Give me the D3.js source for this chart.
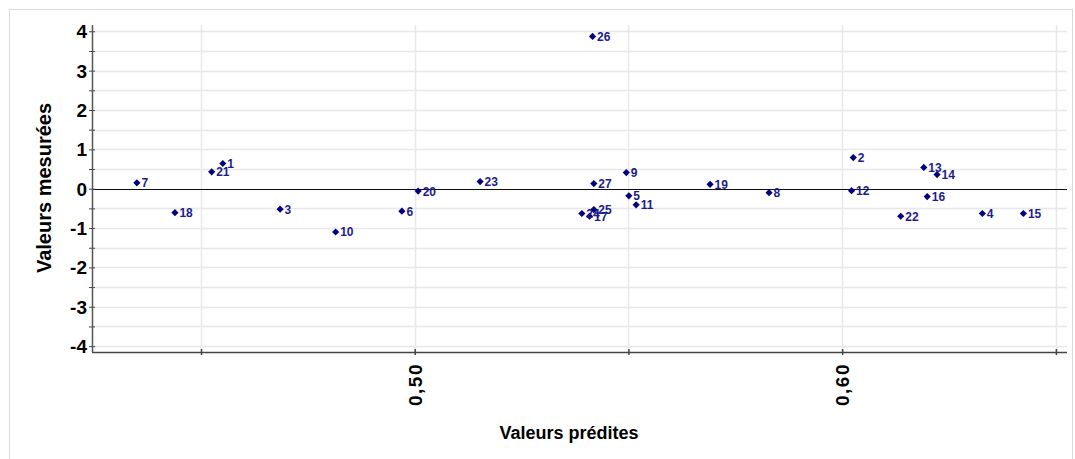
<!DOCTYPE html>
<html><head><meta charset="utf-8">
<script src="https://cdn.jsdelivr.net/npm/d3@7"></script>
<style>body{margin:0;background:#fff}svg{display:block}text{font-family:"Liberation Sans",Arial,sans-serif}</style>
</head><body>
<svg id="c" width="1075" height="459"></svg>
<script>
const ids = [1,2,3,4,5,6,7,8,9,10,11,12,13,14,15,16,17,18,19,20,21,22,23,24,25,26,27];
const predicted = [0.4551,0.6026,0.4685,0.6328,0.5501,0.4970,0.4350,0.5829,0.5495,0.4815,0.5518,0.6022,0.6191,0.6222,0.6424,0.6199,0.5409,0.4439,0.5691,0.5008,0.4525,0.6137,0.5153,0.5391,0.5419,0.5416,0.5419];
const measured = [0.64,0.79,-0.52,-0.63,-0.18,-0.57,0.15,-0.10,0.41,-1.10,-0.41,-0.05,0.54,0.36,-0.63,-0.20,-0.70,-0.61,0.11,-0.06,0.43,-0.70,0.18,-0.63,-0.53,3.87,0.13];
const xTicks = [0.45,0.50,0.55,0.60,0.65];
const xTickLabels = ["","0,50","","0,60",""];
const yTicks = [-4,-3,-2,-1,0,1,2,3,4];
const yMinor = d3.range(-4,4.01,0.5);

const svg = d3.select("#c");
const L=92, R=1067, T=25, B=352;
const x = d3.scaleLinear().domain([0.4245,0.6526]).range([L,R]);
const y = d3.scaleLinear().domain([-4.15,4.16]).range([B,T]);

// frame
svg.append("rect").attr("x",9.5).attr("y",9.5).attr("width",1063).attr("height",470)
  .attr("fill","none").attr("stroke","#d9d9d9");

// grid
const g = svg.append("g");
g.selectAll("line.h").data(yMinor).join("line")
  .attr("x1",L).attr("x2",R).attr("y1",d=>Math.round(y(d))+0.5).attr("y2",d=>Math.round(y(d))+0.5)
  .attr("stroke","#e8e8e8").attr("stroke-width",1.5);
g.selectAll("line.v").data(xTicks).join("line")
  .attr("y1",T).attr("y2",B).attr("x1",d=>Math.round(x(d))+0.5).attr("x2",d=>Math.round(x(d))+0.5)
  .attr("stroke","#e8e8e8").attr("stroke-width",1.5);

// zero line
svg.append("line").attr("x1",L).attr("x2",R).attr("y1",Math.round(y(0))+0.5).attr("y2",Math.round(y(0))+0.5)
  .attr("stroke","#111").attr("stroke-width",1);

// y axis
const ya = svg.append("g").attr("transform",`translate(${L},0)`)
  .call(d3.axisLeft(y).tickValues(yMinor).tickSize(3).tickFormat(""));
ya.select(".domain").remove();
ya.selectAll(".tick line").attr("x1",-3).attr("x2",3).attr("stroke","#444");
svg.append("line").attr("x1",L+0.5).attr("x2",L+0.5).attr("y1",T).attr("y2",B).attr("stroke","#555").attr("stroke-width",1.5);
svg.append("g").selectAll("text").data(yTicks).join("text")
  .attr("x",87).attr("y",d=>y(d)+7).attr("text-anchor","end")
  .attr("font-size",19).attr("font-weight","bold").attr("fill","#000").text(d=>d);

// x axis
const xa = svg.append("g").attr("transform",`translate(0,${B})`)
  .call(d3.axisBottom(x).tickValues(xTicks).tickSize(3).tickFormat(""));
xa.select(".domain").remove();
xa.selectAll(".tick line").attr("y1",-3).attr("y2",3).attr("stroke","#444").attr("stroke-width",1.5);
svg.append("line").attr("x1",L).attr("x2",R).attr("y1",B+0.5).attr("y2",B+0.5).attr("stroke","#444").attr("stroke-width",1.5);
svg.append("g").selectAll("text").data(xTicks).join("text")
  .attr("transform",d=>`translate(${x(d)+7},363) rotate(-90)`)
  .attr("text-anchor","end").attr("font-size",19).attr("font-weight","bold")
  .attr("letter-spacing","1.5px").attr("fill","#000").text((d,i)=>xTickLabels[i]);

// titles
svg.append("text").attr("x",569).attr("y",439).attr("text-anchor","middle")
  .attr("font-size",18).attr("font-weight","bold").text("Valeurs prédites");
svg.append("text").attr("transform","translate(51,188) rotate(-90)").attr("text-anchor","middle")
  .attr("font-size",20).attr("font-weight","bold").text("Valeurs mesurées");

// points
const data = ids.map((id,i)=>({id, px:predicted[i], py:measured[i]}));
const sym = d3.symbol().type(d3.symbolSquare).size(26);
const pg = svg.append("g");
pg.selectAll("path").data(data).join("path")
  .attr("transform",d=>`translate(${x(d.px)},${y(d.py)}) rotate(45)`).attr("d",sym).attr("fill","#00007f");
pg.selectAll("text").data(data).join("text")
  .attr("x",d=>x(d.px)+4.5).attr("y",d=>y(d.py)+4.5)
  .attr("font-size",12).attr("font-weight","bold").attr("fill","#1c1c8c").text(d=>d.id);
</script>
</body></html>
